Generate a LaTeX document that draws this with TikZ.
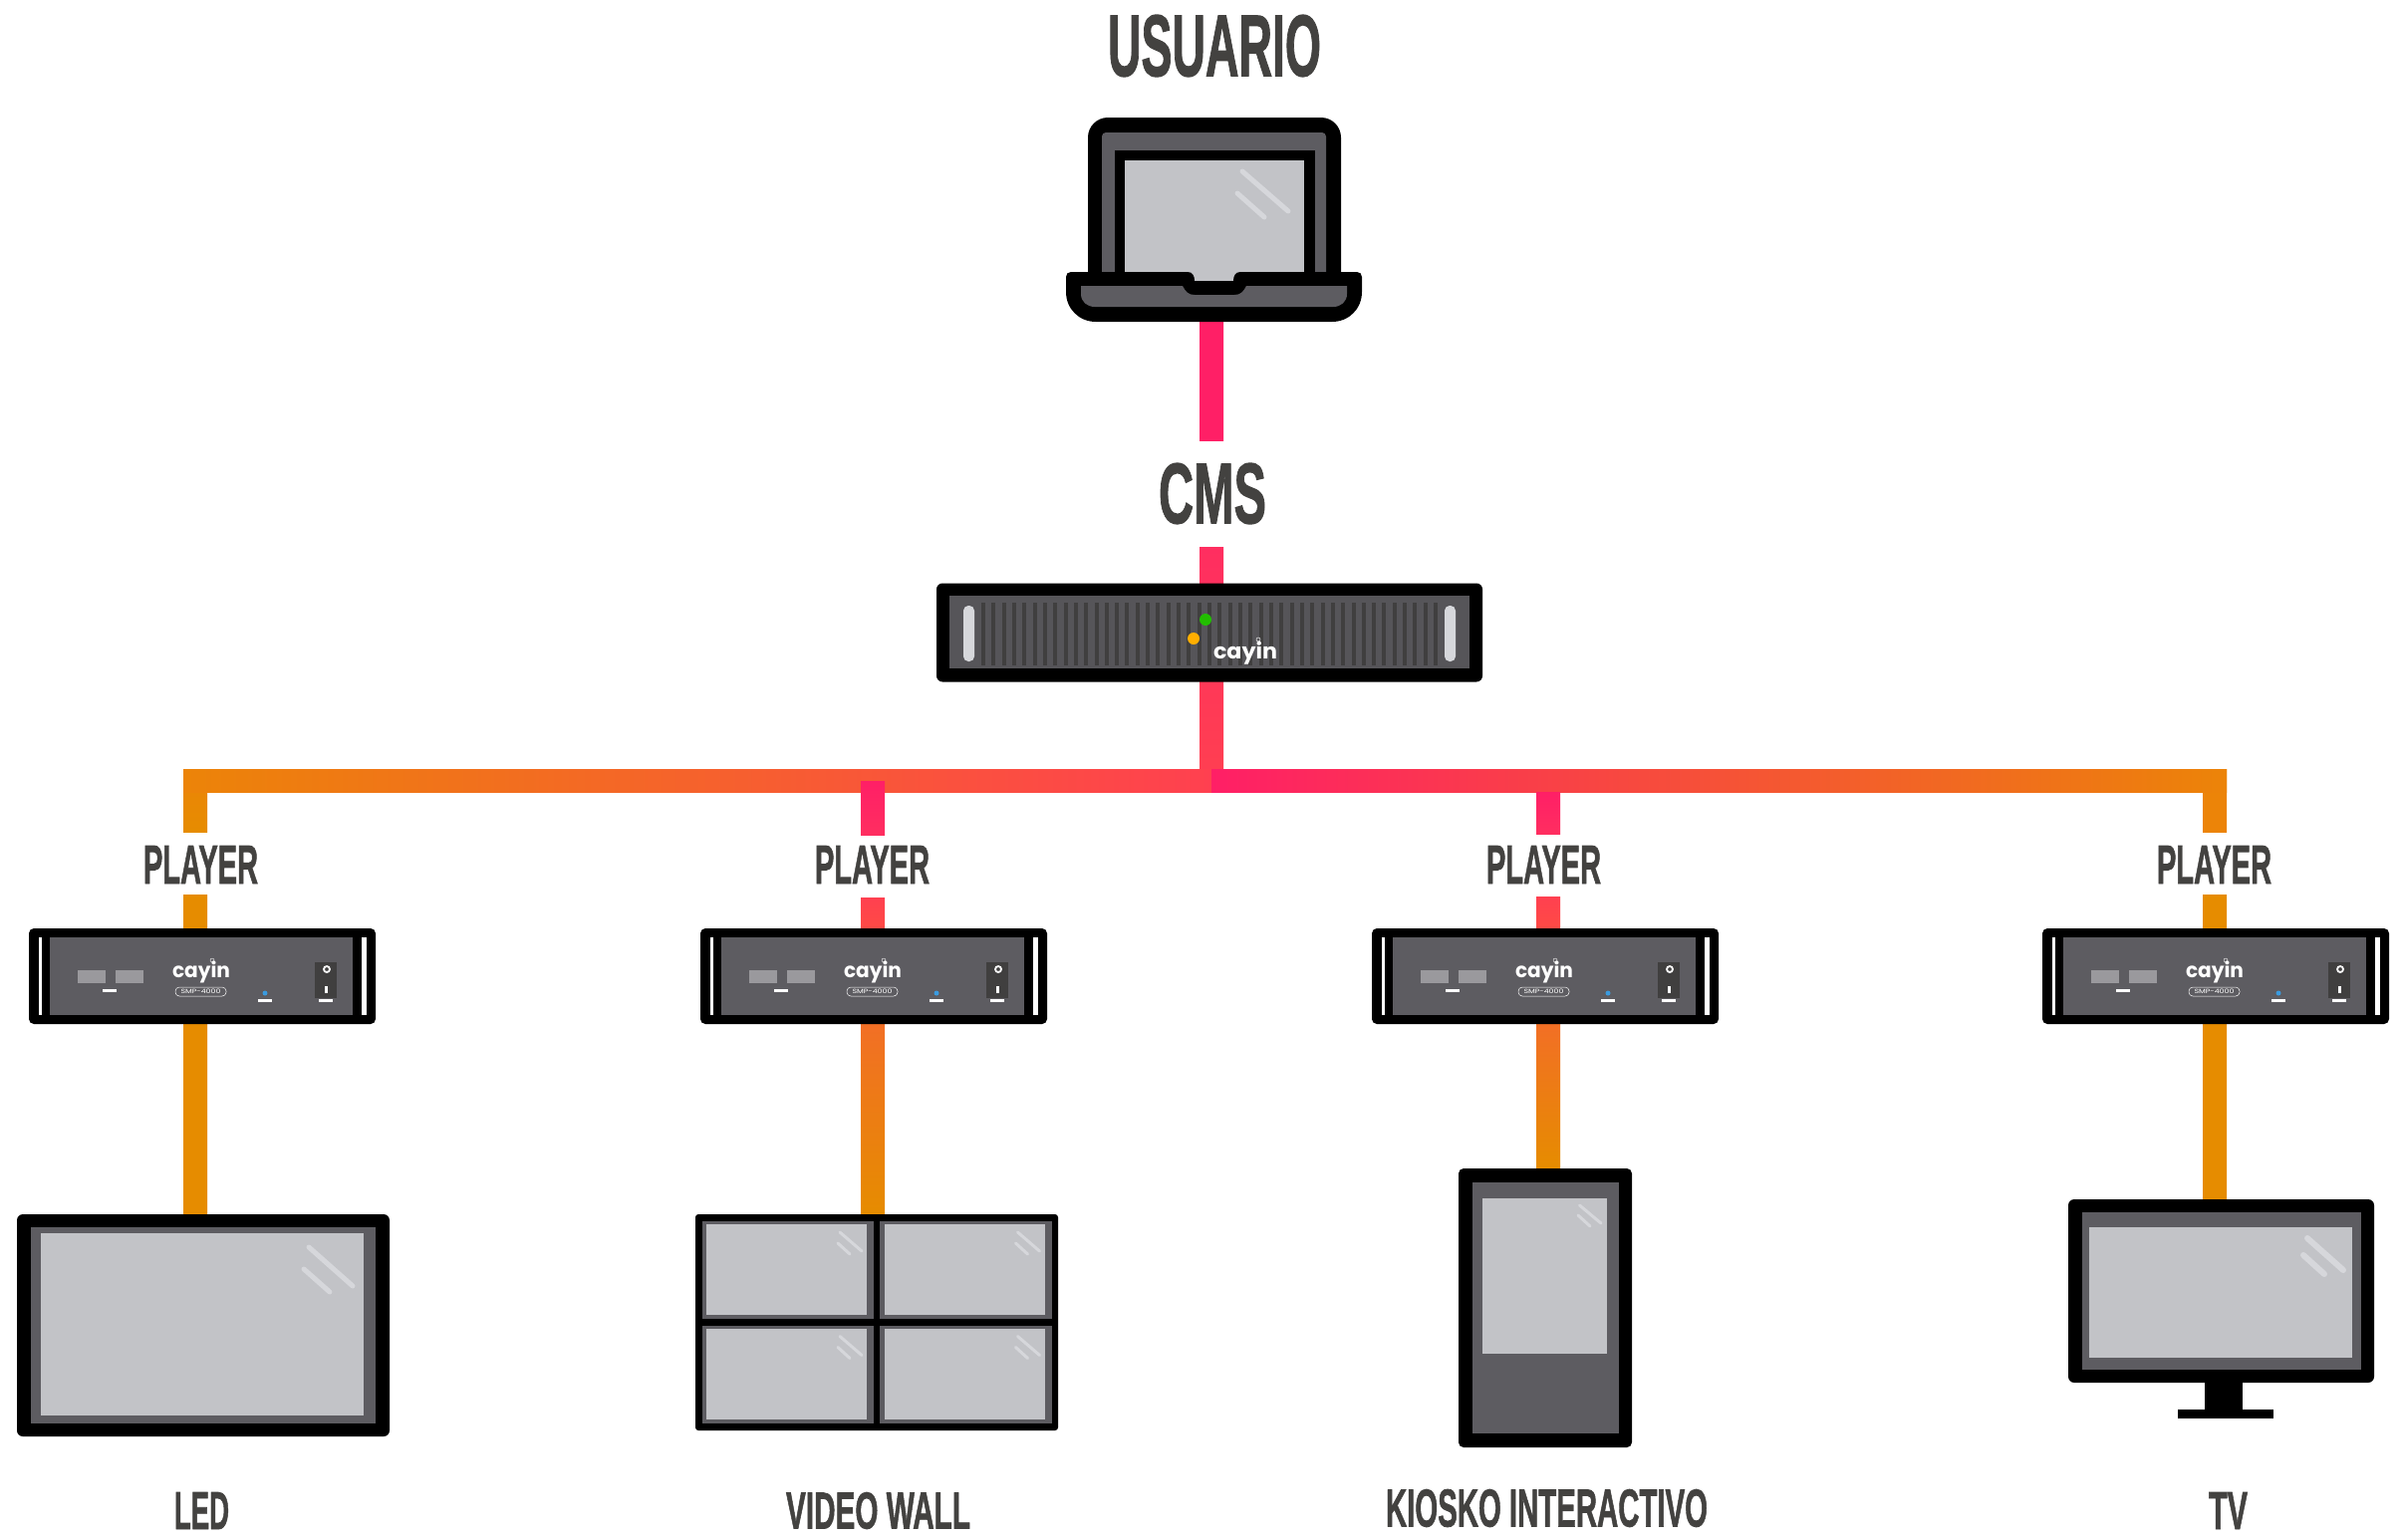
\documentclass[tikz,border=0pt]{standalone}
\usepackage{graphicx}
\usepackage{fontspec}
\usetikzlibrary{calc}
\setmainfont{Liberation Sans}
\newfontfamily\capfont[BoldFeatures={FakeBold=1.5}]{Liberation Sans}
\newfontfamily\logofont{Poppins}
\definecolor{txtgray}{HTML}{434240}
\definecolor{bezel}{HTML}{5D5C61}
\definecolor{glass}{HTML}{C2C3C7}
\definecolor{glint}{HTML}{D6D7DB}
\definecolor{vent}{HTML}{403F3F}
\definecolor{pinkA}{HTML}{FF1F66}
\definecolor{pinkB}{HTML}{FF2E60}
\definecolor{pinkC}{HTML}{FF4050}
\definecolor{redO}{HTML}{FF4A45}
\definecolor{midO}{HTML}{FF5A3C}
\definecolor{orgA}{HTML}{E68C00}
\definecolor{orgB}{HTML}{EC8408}
\definecolor{orgC}{HTML}{F26F25}
\definecolor{ledO}{HTML}{FFAE00}
\definecolor{ledG}{HTML}{22BE00}
\definecolor{ledB}{HTML}{3A9BE0}
\definecolor{port}{HTML}{9A999D}
\pgfdeclarelayer{conn}
\pgfsetlayers{conn,main}
\tikzset{
  devframe/.style={fill=black,rounded corners=#1,inner sep=0pt,outer sep=0pt},
  devframe/.default=5pt,
  captext/.style={inner sep=0pt,outer sep=0pt,text=txtgray},
  glintline/.style={draw=glint,line cap=round,line width=#1},
  glintline/.default=5pt,
  logotext/.style={inner sep=0pt,outer sep=0pt,text=white,anchor=north west}
}
\newcommand{\lblnode}[6]{%
  \pgfmathsetmacro\lblw{#3-#2}\pgfmathsetmacro\lblh{#5-#4}%
  \node[captext] (#1) at ({(#2+#3)/2},{(#4+#5)/2}) {\resizebox*{\lblw pt}{\lblh pt}{\capfont\bfseries #6}};}
\newcommand{\vconn}[5]{%
  \shade[top color=#4,bottom color=#5] ($(#1|-#2)+(-12,0)$) rectangle ($(#1|-#3)+(12,0)$);}
\newcommand{\glarepair}[9]{%
  \draw[glintline=#9] (#1,#2) -- (#3,#4);
  \draw[glintline=#9] (#5,#6) -- (#7,#8);}
\begin{document}
\begin{tikzpicture}[x=1pt,y=-1pt]
\useasboundingbox (0,0) rectangle (2411,1545);

% labels
\lblnode{usuario}{1112}{1326}{15}{77}{USUARIO}
\lblnode{cmslbl}{1163}{1271}{465}{526}{CMS}
\lblnode{pl1}{144}{259}{849}{887}{PLAYER}
\lblnode{pl2}{818}{933}{849}{887}{PLAYER}
\lblnode{pl3}{1492}{1607}{849}{887}{PLAYER}
\lblnode{pl4}{2165}{2280}{849}{887}{PLAYER}
\lblnode{ledlbl}{175}{230}{1498}{1535}{LED}
\lblnode{walllbl}{789}{974}{1498}{1535}{VIDEO WALL}
\lblnode{kiosklbl}{1391}{1714}{1495}{1533}{KIOSKO INTERACTIVO}
\lblnode{tvlbl}{2217}{2256}{1498}{1535}{TV}

% laptop
\node (laptop) [inner sep=0pt,outer sep=0pt,minimum width=297pt,minimum height=205pt] at (1218.5,220.5) {};
\fill[black,rounded corners=20pt] (1092,118) rectangle (1346,300);
\fill[bezel,rounded corners=4pt] (1106,133) rectangle (1331,300);
\fill[black] (1119,151) rectangle (1320,290);
\fill[glass] (1129,161) rectangle (1309,290);
\draw[glintline=5pt] (1247,172) -- (1293,212);
\draw[glintline=5pt] (1242,194) -- (1269,218);
\fill[black] (1075,273) -- (1192,273) .. controls (1197,273) and (1199,277) .. (1199,282)
  -- (1238,282) .. controls (1238,277) and (1240,273) .. (1245,273)
  -- (1362,273) .. controls (1365,273) and (1367,275) .. (1367,278) -- (1367,293)
  .. controls (1367,310) and (1354,323) .. (1337,323) -- (1100,323)
  .. controls (1083,323) and (1070,310) .. (1070,293) -- (1070,278)
  .. controls (1070,275) and (1072,273) .. (1075,273) -- cycle;
\fill[bezel] (1085,287) -- (1187,287) .. controls (1190,293) and (1193,296) .. (1199,296)
  -- (1239,296) .. controls (1245,296) and (1248,293) .. (1251,287) -- (1352,287) -- (1352,295)
  .. controls (1352,303) and (1346,308) .. (1338,308) -- (1099,308)
  .. controls (1091,308) and (1085,303) .. (1085,295) -- cycle;

% CMS server
\node (cms) [devframe=6pt,minimum width=548pt,minimum height=99pt] at (1214,635) {};
\fill[bezel!92!black] (953,598) rectangle (1475,671);
\foreach \i in {0,...,44} {
  \fill[vent] ({985+10.32*\i},605) rectangle ({989+10.32*\i},668);
}
\fill[glint,rounded corners=5pt] (967,608) rectangle (978,664);
\fill[glint,rounded corners=5pt] (1450,608) rectangle (1461,664);
\fill[ledO] (1198,641) circle (6pt);
\fill[ledG] (1210,622) circle (6pt);
\node[logotext] (cmslogo) at (1218,644) {\resizebox*{64pt}{23pt}{\logofont\bfseries cayin}};
\draw[white,line width=0.5pt] (1263,642) circle (2pt);

% players
\foreach \nm/\dx in {p1/0,p2/674,p3/1348,p4/2021} {
  \node (\nm) [devframe=5pt,minimum width=348pt,minimum height=96pt] at (203+\dx,980) {};
  \begin{scope}[xshift=\dx pt]
    \fill[bezel] (50,941) rectangle (354,1019);
    \fill[white] (39,941) rectangle (42,1019);
    \fill[white] (363,941) rectangle (368,1019);
    \fill[port] (78,974) rectangle (106,987);
    \fill[port] (116,974) rectangle (144,987);
    \fill[white] (103,993) rectangle (117,996);
    \node[logotext] at (173,965) {\resizebox*{58pt}{22pt}{\logofont\bfseries cayin}};
    \draw[white,line width=0.4pt] (213,964) circle (2pt);
    \draw[white,line width=0.5pt,rounded corners=4pt] (176,991) rectangle (227,1000);
    \node[logotext,anchor=center] at (201.5,995.5) {\resizebox{40pt}{4.5pt}{\logofont SMP-4000}};
    \fill[ledB] (266,997) circle (2.5pt);
    \fill[white] (259,1003) rectangle (273,1006);
    \fill[vent] (316,966) rectangle (338,1002);
    \draw[white,line width=1.8pt] (328,973) circle (3pt);
    \fill[white] (326,990) rectangle (329,997);
    \fill[white] (320,1003) rectangle (334,1006);
  \end{scope}
}

% LED display
\node (led) [devframe=6pt,minimum width=374pt,minimum height=223pt] at (204,1330.5) {};
\fill[bezel] (31,1232) rectangle (377,1429);
\fill[glass] (41,1238) rectangle (365,1421);
\glarepair{310}{1252}{354}{1291}{305}{1274}{331}{1297}{5pt}

% video wall
\node (wall) [devframe=3pt,minimum width=364pt,minimum height=217pt] at (880,1327.5) {};
\foreach \px/\py/\qx/\qy/\rx/\ry/\sx/\sy in {
  705/1226/877/1324/709/1229/870/1320,
  883/1226/1056/1324/888/1229/1049/1320,
  705/1331/877/1429/709/1334/870/1425,
  883/1331/1056/1429/888/1334/1049/1425} {
  \fill[bezel] (\px,\py) rectangle (\qx,\qy);
  \fill[glass] (\rx,\ry) rectangle (\sx,\sy);
}
\foreach \ox/\oy in {0/0,178.5/0,0/104.5,178.5/104.5} {
  \begin{scope}[shift={(\ox,\oy)}]
    \glarepair{843}{1237}{865}{1256}{841}{1248}{853}{1259}{3pt}
  \end{scope}
}

% kiosk
\node (kiosk) [devframe=5pt,minimum width=174pt,minimum height=280pt] at (1551,1313) {};
\fill[bezel] (1478,1187) rectangle (1625,1439);
\fill[glass] (1488,1203) rectangle (1613,1359);
\glarepair{1585.5}{1210}{1607}{1228}{1584}{1220}{1596}{1231}{3pt}

% TV
\fill[black] (2213,1385) rectangle (2251,1416);
\fill[black] (2186,1415) rectangle (2282,1424);
\node (tv) [devframe=6pt,minimum width=307pt,minimum height=184pt] at (2229.5,1296) {};
\fill[bezel] (2090,1217) rectangle (2370,1375);
\fill[glass] (2097,1232) rectangle (2361,1363);
\glarepair{2316}{1243}{2352}{1275}{2312}{1260}{2333}{1279}{6pt}

% connectors
\coordinate (cx0) at (1216,0);
\coordinate (cx1) at (196,0);
\coordinate (cx2) at (876,0);
\coordinate (cx3) at (1554,0);
\coordinate (cx4) at (2223,0);
\coordinate (busTop) at (0,772);
\coordinate (busBot) at (0,795);
\coordinate (top2) at (0,784);
\coordinate (cmsUp) at ($(cmslbl.north)+(0,-22)$);
\coordinate (cmsDown) at ($(cmslbl.south)+(0,23)$);
\coordinate (pl1up) at ($(pl1.north)+(0,-14)$);
\coordinate (pl1dn) at ($(pl1.south)+(0,11)$);
\coordinate (pl2up) at ($(pl2.north)+(0,-11)$);
\coordinate (pl2dn) at ($(pl2.south)+(0,14)$);
\coordinate (pl3up) at ($(pl3.north)+(0,-12)$);
\coordinate (pl3dn) at ($(pl3.south)+(0,13)$);
\coordinate (pl4up) at ($(pl4.north)+(0,-14)$);
\coordinate (pl4dn) at ($(pl4.south)+(0,11)$);
\begin{pgfonlayer}{conn}
  \fill[white] (0,0) rectangle (2411,1545);
  \vconn{cx0}{laptop.south}{cmsUp}{pinkA}{pinkA}
  \vconn{cx0}{cmsDown}{busBot}{pinkB}{pinkC}
  % player feeds
  \vconn{cx1}{busTop}{pl1up}{orgB}{orgA}
  \vconn{cx1}{pl1dn}{p1.north}{orgA}{orgA}
  \vconn{cx2}{pl2dn}{p2.north}{pinkC}{redO}
  \vconn{cx3}{pl3dn}{p3.north}{pinkC}{redO}
  \vconn{cx4}{busTop}{pl4up}{orgB}{orgB}
  \vconn{cx4}{pl4dn}{p4.north}{orgA}{orgA}
  % player to display
  \vconn{cx1}{p1.south}{led.north}{orgA}{orgA}
  \shade[top color=orgC,middle color=orgA!96!orgC,bottom color=orgA] ($(cx2|-p2.south)+(-12,0)$) rectangle ($(cx2|-wall.north)+(12,0)$);
  \shade[top color=orgC,middle color=orgA!96!orgC,bottom color=orgA] ($(cx3|-p3.south)+(-12,0)$) rectangle ($(cx3|-kiosk.north)+(12,0)$);
  \vconn{cx4}{p4.south}{tv.north}{orgA}{orgA}
  % bus
  \shade[left color=orgB,middle color=midO!80!orgC,right color=pinkC] ($(cx1|-busTop)+(-12,0)$) rectangle (cx0|-busBot);
  \shade[left color=pinkA,middle color=midO,right color=orgB] (cx0|-busTop) rectangle ($(cx4|-busBot)+(12,0)$);
  % stubs above the labels that start on the bus
  \vconn{cx2}{top2}{pl2up}{pinkA}{pinkB}
  \vconn{cx3}{busBot}{pl3up}{pinkA}{pinkB}
\end{pgfonlayer}
\end{tikzpicture}
\end{document}
